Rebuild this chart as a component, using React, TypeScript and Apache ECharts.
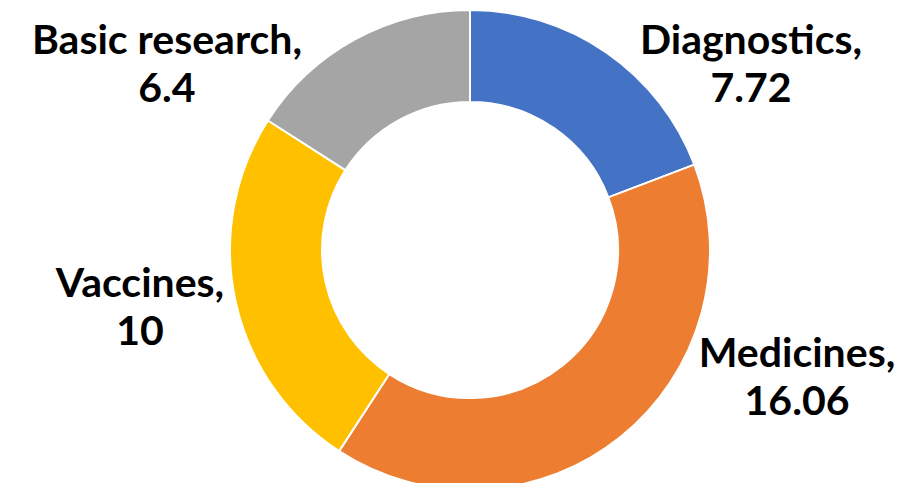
import React, { useEffect, useRef } from "react";
import * as echarts from "echarts";

const categories = ["Diagnostics", "Medicines", "Vaccines", "Basic research"];
const values = [7.72, 16.06, 10, 6.4];
const colors = ["#4472C4", "#ED7D31", "#FFC000", "#A5A5A5"];
// label anchor centres (pixels), chosen to mirror the reference layout
const labelAnchors = [
  [751, 62],
  [797, 375],
  [140, 305],
  [167, 62],
];

export default function App() {
  const ref = useRef<HTMLDivElement>(null);
  useEffect(() => {
    if (!ref.current) return;
    const chart = echarts.init(ref.current, undefined, { renderer: "svg" });
    chart.setOption({
      animation: false,
      backgroundColor: "#ffffff",
      series: [
        {
          type: "pie",
          center: [470, 250],
          radius: [148, 240],
          startAngle: 90,
          clockwise: true,
          avoidLabelOverlap: false,
          itemStyle: { borderColor: "#ffffff", borderWidth: 2 },
          label: {
            show: true,
            position: "outside",
            formatter: "{b},\n{c}",
            fontFamily: "Lato",
            fontWeight: "bold",
            fontSize: 41,
            lineHeight: 48,
            color: "#000000",
            align: "center",
          },
          labelLine: { show: false },
          labelLayout: (params: any) => {
            const a = labelAnchors[params.dataIndex];
            return { x: a[0], y: a[1], align: "center", verticalAlign: "middle" };
          },
          data: categories.map((name, i) => ({
            name,
            value: values[i],
            itemStyle: { color: colors[i] },
          })),
        },
      ],
    });
    return () => chart.dispose();
  }, []);
  return (
    <div
      ref={ref}
      style={{ position: "absolute", left: 0, top: 0, width: 922, height: 483 }}
    />
  );
}
